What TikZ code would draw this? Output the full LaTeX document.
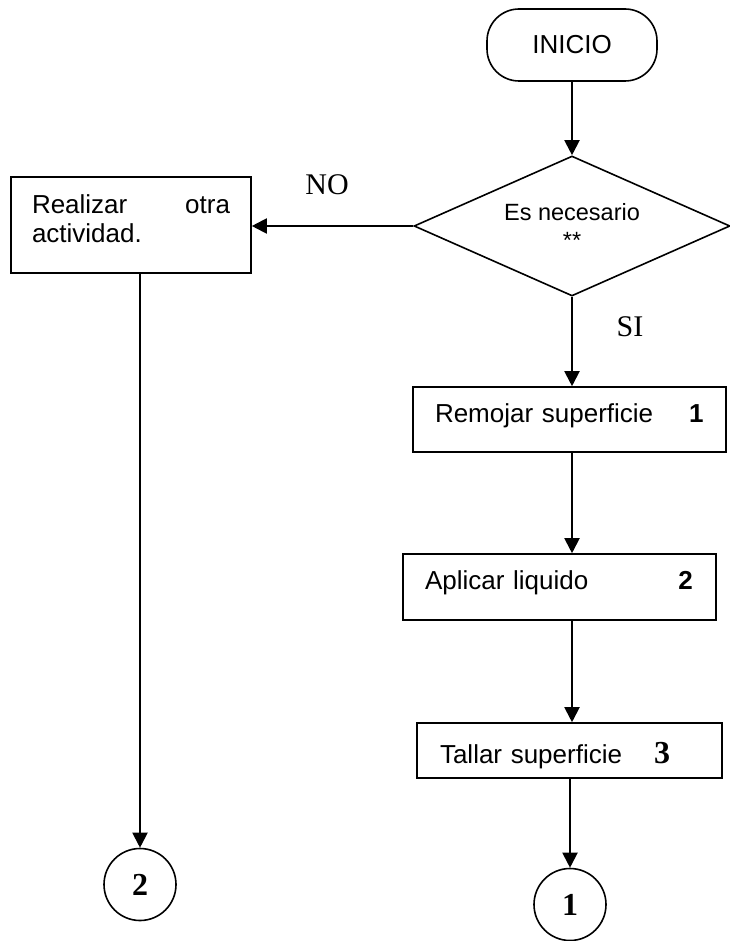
\documentclass[tikz,border=0pt]{standalone}
\usepackage{fontspec}
\setmainfont{Liberation Sans}
\newfontfamily\timesfont{Liberation Serif}
\usetikzlibrary{shapes.geometric,arrows.meta}

\begin{document}
\begin{tikzpicture}[x=1pt,y=-1pt,
  flecha/.style={line width=2pt,-{Triangle[length=15pt,width=15pt]}},
  caja/.style={draw,line width=1.6pt,rectangle,inner xsep=22pt,inner ysep=0pt,align=left,font=\fontsize{26}{29}\selectfont},
  paso/.style={caja,text height=20pt,text depth=15pt},
  conector/.style={draw,line width=1.6pt,circle,minimum size=72pt,inner sep=0pt,font=\timesfont\bfseries\fontsize{32}{34}\selectfont},
  rotulo/.style={inner sep=0pt,font=\timesfont\fontsize{30}{30}\selectfont}]
\fill[white] (0,0) rectangle (729,941);
\useasboundingbox (0,0) rectangle (729,941);
% Drawing blocks
% Block 1: INICIO
\node[draw,line width=1.6pt,rounded corners=32pt,minimum width=170pt,minimum height=72pt,font=\fontsize{26}{29}\selectfont] (inicio) at (572,45) {INICIO};
% Block 2: decision
\node[draw,line width=1.6pt,diamond,aspect=2.26,minimum width=316pt,minimum height=140pt,inner sep=0pt,align=center,font=\fontsize{23.5}{28}\selectfont] (necesario) at (572,226) {Es necesario\\**};
% Block 3: rama NO
\node[caja,text width=198pt,inner xsep=21pt,minimum height=96pt,text depth=41pt] (realizar) at (131,225) {Realizar\hfill otra\\actividad.};
% Block 4-6: rama SI
\node[paso,text width=269pt,minimum height=65pt] (remojar) at (569.5,419.5) {Remojar superficie\hspace{36pt}\textbf{1}};
\node[paso,text width=269pt,minimum height=66pt] (aplicar) at (559.5,587) {Aplicar liquido\hspace{90pt}\textbf{2}};
\node[paso,text width=259pt,inner xsep=23pt,minimum height=55pt,text height=25pt,text depth=0pt] (tallar) at (569.5,750.5) {Tallar superficie\hspace{32pt}{\timesfont\bfseries\fontsize{32}{32}\selectfont 3}};
% Block 7-8: conectores
\node[conector] (fin1) at (570,904.5) {1};
\node[conector] (fin2) at (140,884.5) {2};
% Done with blocks; drawing labels
\node[rotulo] (no) at (327,185) {NO};
\node[rotulo] (si) at (630,327) {SI};
% Done with labels; drawing arrows
\draw[flecha] (inicio) -- (necesario);
\draw[flecha] (necesario.west) -- (realizar.east |- necesario.west);
\draw[flecha] (necesario.south) -- (remojar.north -| necesario.south);
\draw[flecha] (remojar.south -| inicio) -- (aplicar.north -| inicio);
\draw[flecha] (aplicar.south -| inicio) -- (tallar.north -| inicio);
\draw[flecha] (tallar.south -| fin1) -- (fin1);
\draw[flecha] (realizar.south -| fin2) -- (fin2);
% Done with arrows
\end{tikzpicture}
\end{document}
